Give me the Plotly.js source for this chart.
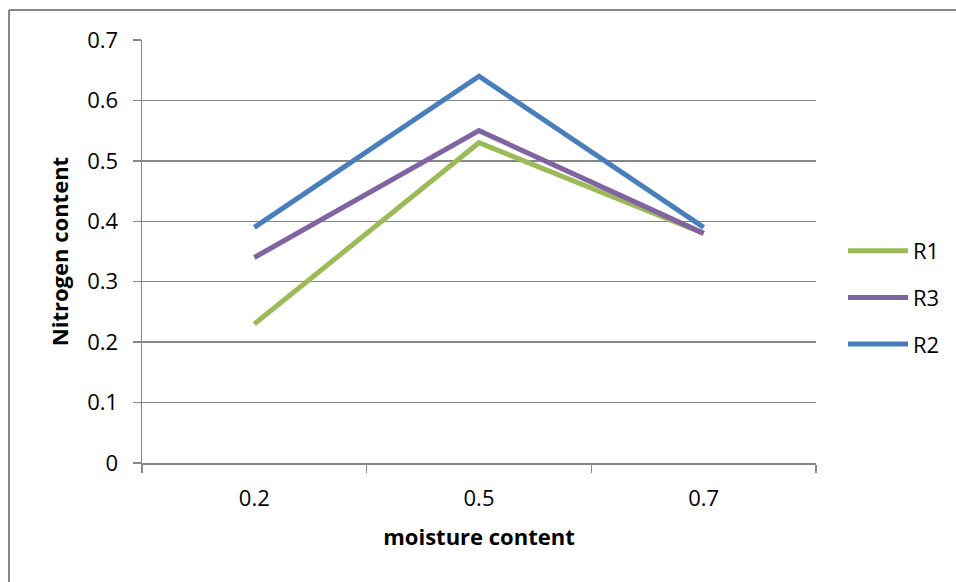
<!DOCTYPE html>
<html>
<head>
<meta charset="utf-8">
<script src="https://cdn.plot.ly/plotly-3.0.1.min.js"></script>
<style>
html,body{margin:0;padding:0;background:#fff;}
#chart{width:956px;height:582px;}
</style>
</head>
<body>
<div id="chart"></div>
<script>
const categories = ["0.2", "0.5", "0.7"];
const seriesNames = ["R1", "R3", "R2"];
const r1 = [0.23, 0.53, 0.38];
const r3 = [0.34, 0.55, 0.38];
const r2 = [0.39, 0.64, 0.39];
const colors = ["#9BBB59", "#8064A2", "#4A7EBB"];
const yTicks = [0, 0.1, 0.2, 0.3, 0.4, 0.5, 0.6, 0.7];
const yTickText = ["0", "0.1", "0.2", "0.3", "0.4", "0.5", "0.6", "0.7"];

const values = [r1, r3, r2];
const traces = values.map((v, i) => ({
  type: "scatter",
  mode: "lines",
  x: categories,
  y: v,
  name: seriesNames[i],
  legendgroup: seriesNames[i],
  line: {color: colors[i], width: 5},
  hoverinfo: "x+y+name"
}));

const W = 956, H = 582, L = 142, R = 816, T = 40, B = 463;
const pw = R - L, ph = B - T;
const px = x => (x - L) / pw;
const py = y => (B - y) / ph;

const font = "Open Sans, Lato, Liberation Sans, sans-serif";
const layout = {
  width: W, height: H,
  margin: {l: L, r: W - R, t: T, b: H - B, pad: 0, autoexpand: false},
  paper_bgcolor: "#fff",
  plot_bgcolor: "#fff",
  font: {family: font, size: 22, color: "#000"},
  showlegend: true,
  legend: {
    x: px(843), y: py(230), xanchor: "left", yanchor: "top",
    font: {family: font, size: 22, color: "#000"},
    tracegroupgap: 15,
    itemwidth: 60,
    bgcolor: "rgba(0,0,0,0)"
  },
  xaxis: {
    type: "category",
    range: [-0.5, 2.5],
    tickson: "boundaries",
    ticks: "outside",
    ticklen: 8,
    tickwidth: 1.5,
    tickcolor: "#878787",
    showline: true,
    linecolor: "#878787",
    linewidth: 1.5,
    showgrid: false,
    zeroline: false,
    ticklabelstandoff: 15,
    tickfont: {family: font, size: 22},
    title: {text: "moisture content", font: {family: font, size: 22, weight: "bold"}, standoff: 18}
  },
  yaxis: {
    range: [0, 0.7],
    tickvals: yTicks,
    ticktext: yTickText,
    ticks: "outside",
    ticklen: 8,
    tickwidth: 1.5,
    tickcolor: "#878787",
    showline: true,
    linecolor: "#878787",
    linewidth: 1.5,
    showgrid: true,
    gridcolor: "#878787",
    gridwidth: 1.5,
    zeroline: false,
    ticklabelstandoff: 10,
    tickfont: {family: font, size: 22},
    title: {text: "Nitrogen content", font: {family: font, size: 22, weight: "bold"}, standoff: 12}
  },
  shapes: [
    {type: "line", xref: "paper", yref: "paper", x0: px(9), x1: px(960), y0: py(10), y1: py(10), line: {color: "#878787", width: 2}},
    {type: "line", xref: "paper", yref: "paper", x0: px(9), x1: px(9), y0: py(10), y1: py(590), line: {color: "#878787", width: 2}}
  ]
};

Plotly.newPlot("chart", traces, layout, {displayModeBar: false, staticPlot: true});
</script>
</body>
</html>
